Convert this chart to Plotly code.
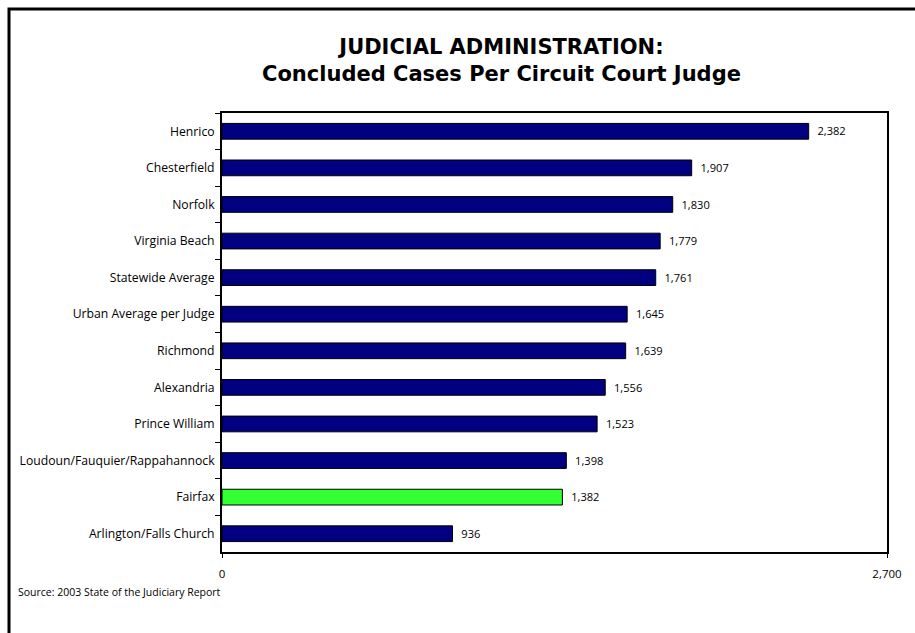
import plotly.graph_objects as go

categories = ["Henrico", "Chesterfield", "Norfolk", "Virginia Beach", "Statewide Average",
              "Urban Average per Judge", "Richmond", "Alexandria", "Prince William",
              "Loudoun/Fauquier/Rappahannock", "Fairfax", "Arlington/Falls Church"]
values = [2382, 1907, 1830, 1779, 1761, 1645, 1639, 1556, 1523, 1398, 1382, 936]
colors = ["#000080"] * 10 + ["#33FF33", "#000080"]
x_tickvals = [0, 2700]
x_ticktext = ["0", "2,700"]

FONT = "Open Sans"

fig = go.Figure(go.Bar(
    y=categories, x=values, orientation="h",
    marker=dict(color=colors, line=dict(color="black", width=1)),
    width=0.43,
    text=[f"  {v:,}" for v in values], textposition="outside",
    textfont=dict(family=FONT, size=12, color="black"),
    cliponaxis=False,
))

fig.update_layout(
    width=915, height=633,
    margin=dict(l=222, r=28, t=113, b=81),
    paper_bgcolor="white", plot_bgcolor="white",
    font=dict(family=FONT, size=11, color="black"),
    showlegend=False,
    xaxis=dict(range=[0, 2700], tickvals=x_tickvals, ticktext=x_ticktext,
               showgrid=False, zeroline=False, showline=True, linecolor="black",
               linewidth=2, mirror=True, ticks="outside", ticklen=4, tickcolor="black",
               ticklabelstandoff=6,
               tickfont=dict(family=FONT, size=11.5)),
    yaxis=dict(categoryorder="array", categoryarray=categories, autorange="reversed",
               showgrid=False, showline=True, linecolor="black", linewidth=2, mirror=True,
               ticks="outside", ticklen=5, tickcolor="black", tickson="boundaries",
               ticklabelstandoff=3,
               tickfont=dict(family=FONT, size=12.2)),
    annotations=[
        dict(text="<b>JUDICIAL ADMINISTRATION:<br>Concluded Cases Per Circuit Court Judge</b>",
             xref="paper", yref="paper", x=0.421, y=1.0, yshift=80, xanchor="center",
             yanchor="top", showarrow=False, align="center",
             font=dict(family="DejaVu Sans", size=21, color="black")),
        dict(text="Source: 2003 State of the Judiciary Report",
             xref="paper", yref="paper", x=-0.31, y=0, yshift=-31, xanchor="left",
             yanchor="top", showarrow=False, font=dict(family=FONT, size=10.5, color="black")),
    ],
)
fig.add_shape(type="rect", xref="paper", yref="paper",
              x0=(9 - 222) / 665, x1=(960 - 222) / 665,
              y0=(552 - 700) / 439, y1=(552 - 9) / 439,
              line=dict(color="black", width=3), layer="below")

fig.write_html("out.html", config={"displayModeBar": False},
               post_script="document.body.style.margin='0';document.body.style.overflow='hidden';")
